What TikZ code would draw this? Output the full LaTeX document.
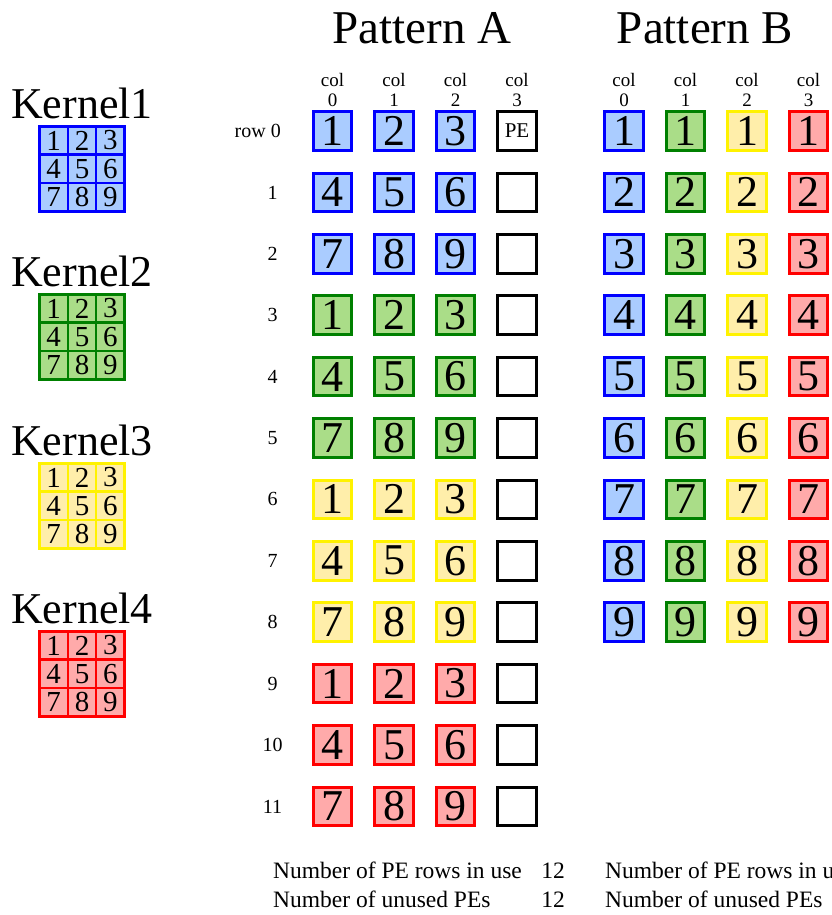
\documentclass[tikz,border=0pt]{standalone}
\usepackage{fontspec}
\setmainfont{Liberation Serif}
\definecolor{kgreen}{RGB}{0,128,0}
\definecolor{fillblue}{HTML}{AACCFF}
\definecolor{fillgreen}{HTML}{AADD88}
\definecolor{fillyellow}{HTML}{FFEEAA}
\definecolor{fillred}{HTML}{FFAAAA}
\tikzset{
  pe/.style={draw, line width=3pt, minimum size=38.5pt, inner sep=0pt, font=\fontsize{44}{44}\selectfont},
  kcell/.style={draw, line width=2.5pt, minimum size=28.3pt, inner sep=0pt, font=\fontsize{29}{29}\selectfont},
  lbl/.style={inner sep=0pt, font=\fontsize{20}{20}\selectfont},
  k1/.style={draw=blue, fill=fillblue},
  k2/.style={draw=kgreen, fill=fillgreen},
  k3/.style={draw=yellow, fill=fillyellow},
  k4/.style={draw=red, fill=fillred}
}

\begin{document}
\begin{tikzpicture}[x=1pt, y=-1pt]
		%%%%% START %%%%%
		\useasboundingbox (0, 0) rectangle (832, 915);
		
		\node[anchor=base, inner sep=0pt, font=\fontsize{47}{47}\selectfont] (titleA) at (422, 44) {Pattern A};
		\node[anchor=base, inner sep=0pt, font=\fontsize{47}{47}\selectfont] (titleB) at (705, 44) {Pattern B};
		
		% kernels on the left
		\foreach \k/\y in {1/125, 2/293, 3/462, 4/630} {
			\node[anchor=base, inner sep=0pt, font=\fontsize{44}{44}\selectfont] (kname\k) at (82, \y-7) {Kernel\k};
			\foreach \r in {0,1,2}
				\foreach \c in {0,1,2} {
					\pgfmathtruncatemacro{\d}{3*\r+\c+1}
					\node[kcell, k\k] (k\k-\r-\c) at (53.7+28.3*\c, \y+15.5+28.3*\r) {\d};
				}
		}
		
		% column headers
		\foreach \c in {0,...,3} {
			\node[lbl, align=center, font=\fontsize{19}{20.7}\selectfont] (colA\c) at (332.5+61.5*\c, 90) {col\\\c};
			\node[lbl, align=center, font=\fontsize{19}{20.7}\selectfont] (colB\c) at (624+61.5*\c, 90) {col\\\c};
		}
		
		% row labels
		\node[lbl, anchor=east] (row0) at (281, 131) {row 0};
		\foreach \r in {1,...,11}
			\node[lbl] (row\r) at (272.5, 131+61.4*\r) {\r};
		
		% pattern A: one kernel row per PE row
		\foreach \k in {1,...,4}
			\foreach \r in {0,1,2}
				\foreach \c in {0,1,2} {
					\pgfmathtruncatemacro{\row}{3*(\k-1)+\r}
					\pgfmathtruncatemacro{\d}{3*\r+\c+1}
					\node[pe, k\k] (a-\row-\c) at (332.5+61.5*\c, 131+61.4*\row) {\d};
				}
		\node[pe, draw=black, font=\fontsize{21}{21}\selectfont] (a-0-3) at (517, 131) {PE};
		\foreach \r in {1,...,11}
			\node[pe, draw=black] (a-\r-3) at (517, 131+61.4*\r) {};
		
		% pattern B: one kernel per PE column
		\foreach \k in {1,...,4}
			\foreach \r in {0,...,8} {
				\pgfmathtruncatemacro{\c}{\k-1}
				\pgfmathtruncatemacro{\d}{\r+1}
				\node[pe, k\k] (b-\r-\c) at (624+61.5*\c, 131+61.4*\r) {\d};
			}
		
		% totals
		\node[anchor=base west, inner sep=0pt, font=\fontsize{23.5}{23.5}\selectfont] (useA) at (273, 878) {Number of PE rows in use};
		\node[anchor=base, inner sep=0pt, font=\fontsize{23.5}{23.5}\selectfont] (useAn) at (553, 878) {12};
		\node[anchor=base west, inner sep=0pt, font=\fontsize{23.5}{23.5}\selectfont] (freeA) at (273, 907) {Number of unused PEs};
		\node[anchor=base, inner sep=0pt, font=\fontsize{23.5}{23.5}\selectfont] (freeAn) at (553, 907) {12};
		\node[anchor=base west, inner sep=0pt, font=\fontsize{23.5}{23.5}\selectfont] (useB) at (605, 878) {Number of PE rows in use};
		\node[anchor=base west, inner sep=0pt, font=\fontsize{23.5}{23.5}\selectfont] (freeB) at (605, 907) {Number of unused PEs};
		
		%%%%% END %%%%%
\end{tikzpicture}
\end{document}
